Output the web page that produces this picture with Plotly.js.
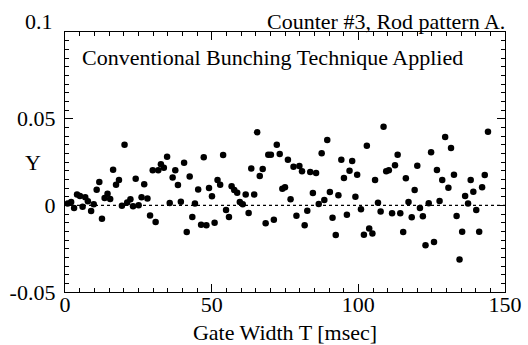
<!DOCTYPE html>
<html>
<head>
<meta charset="utf-8">
<script src="https://cdn.plot.ly/plotly-3.0.1.min.js"></script>
<style>html,body{margin:0;padding:0;background:#fff;}#chart{width:528px;height:345px;}</style>
</head>
<body>
<div id="chart"></div>
<script>
// Gate width T [msec]
const gateWidth = [
  0.9,2.1,3.1,4.1,5.1,6.0,6.9,7.8,8.9,9.8,10.8,11.7,12.6,13.5,14.5,15.4,16.4,17.4,18.4,19.4,20.3,21.2,22.3,23.2,24.1,
  25.1,26.1,27.0,28.1,29.0,29.9,30.9,31.8,32.7,33.7,34.8,35.7,36.7,37.6,38.5,39.5,40.6,41.5,42.5,43.4,44.3,45.4,46.4,47.3,48.2,49.1,
  50.1,51.0,52.0,52.9,53.9,54.9,55.9,56.8,57.7,58.7,59.6,60.6,61.6,62.6,63.5,64.5,65.5,66.4,67.4,68.4,69.3,70.2,71.2,72.2,73.2,74.1,
  75.0,76.0,76.9,77.9,78.9,79.9,80.8,81.7,82.6,83.6,84.5,85.6,86.5,87.5,88.4,89.4,90.3,91.2,92.3,93.2,94.2,95.1,96.1,97.0,97.9,99.0,99.6,
  100.9,101.9,102.9,103.7,104.8,105.7,106.7,107.6,108.6,109.5,110.4,111.5,112.5,113.4,114.3,115.3,116.2,117.1,118.2,119.2,120.1,121.0,122.0,122.9,124.0,124.8,
  125.8,126.8,127.7,128.6,129.6,130.7,131.6,132.6,133.5,134.5,135.4,136.4,137.4,138.3,139.2,140.2,141.2,142.2,143.1,144.2
];
// Y values
const yValues = [
  0.0010,0.0019,-0.0015,0.0063,0.0054,-0.0008,0.0046,0.0023,-0.0033,0.0006,0.0090,0.0135,-0.0077,0.0042,0.0067,0.0037,0.0206,0.0119,0.0146,-0.0002,0.0350,0.0017,0.0035,-0.0006,0.0154,
  0.0000,0.0046,0.0121,0.0040,-0.0058,0.0202,-0.0096,0.0202,0.0237,0.0217,0.0281,0.0013,0.0160,0.0202,0.0117,0.0021,0.0246,-0.0154,0.0167,-0.0067,0.0010,0.0092,-0.0112,0.0277,-0.0115,0.0100,
  0.0052,-0.0100,0.0146,0.0119,0.0290,-0.0027,-0.0067,0.0110,0.0088,0.0073,0.0019,0.0006,0.0062,-0.0044,0.0212,0.0062,0.0421,0.0169,0.0210,-0.0104,0.0292,0.0292,-0.0083,0.0350,0.0296,0.0096,
  0.0104,0.0263,0.0035,0.0223,-0.0060,0.0227,0.0196,-0.0115,-0.0031,0.0192,0.0071,0.0187,0.0008,0.0300,0.0031,0.0377,0.0077,-0.0071,-0.0171,0.0058,0.0263,0.0158,-0.0054,0.0200,0.0256,0.0050,0.0177,
  -0.0023,-0.0169,0.0344,-0.0133,-0.0163,0.0146,0.0015,-0.0035,0.0454,0.0196,0.0202,-0.0046,0.0231,0.0292,-0.0046,-0.0154,0.0156,0.0019,-0.0069,0.0088,0.0229,-0.0015,-0.0063,-0.0231,0.0012,0.0306,
  -0.0212,0.0204,0.0025,0.0146,0.0394,0.0102,0.0331,0.0177,-0.0062,-0.0312,-0.0152,0.0054,0.0010,0.0146,0.0079,-0.0027,-0.0152,0.0104,0.0175,0.0425
];
const xTickVals = [0, 50, 100, 150];
const xTickText = ['0', '50', '100', '150'];
const yTickVals = [-0.05, 0, 0.05, 0.1];
const yTickText = ['-0.05', '0', '0.05', ''];
const yTopLabel = '0.1';
const titleText = 'Counter #3, Rod pattern A.';
const noteText = 'Conventional Bunching Technique Applied';
const xTitle = 'Gate Width T [msec]';
const yTitle = 'Y';

const font = {family: '"Liberation Serif", "DejaVu Serif", serif', size: 22, color: '#000'};

const trace = {
  x: gateWidth, y: yValues, type: 'scatter', mode: 'markers',
  marker: {color: '#000', size: 6.5}, hoverinfo: 'skip', showlegend: false
};

const axisCommon = {
  showgrid: false, zeroline: false, showline: true, linecolor: '#000', linewidth: 1.2,
  mirror: 'allticks', ticks: 'inside', ticklen: 8, tickwidth: 1.2, tickcolor: '#000',
  tickmode: 'array', tickfont: font
};

const layout = {
  width: 528, height: 345,
  margin: {l: 65, r: 23, t: 32, b: 53},
  paper_bgcolor: '#fff', plot_bgcolor: '#fff',
  font: font,
  xaxis: Object.assign({}, axisCommon, {
    range: [0, 150], tickvals: xTickVals, ticktext: xTickText, ticklabelstandoff: -8,
    minor: {tickmode: 'linear', tick0: 0, dtick: 5, ticks: 'inside', ticklen: 4, tickwidth: 1, tickcolor: '#000'},
    title: {text: xTitle, font: font, standoff: 14}
  }),
  yaxis: Object.assign({}, axisCommon, {
    range: [-0.05, 0.1], tickvals: yTickVals, ticktext: yTickText, ticklabelstandoff: 4,
    minor: {tickmode: 'linear', tick0: 0, dtick: 0.005, ticks: 'inside', ticklen: 4, tickwidth: 1, tickcolor: '#000'}
  }),
  shapes: [{
    type: 'line', xref: 'paper', x0: 0, x1: 1, yref: 'y', y0: 0, y1: 0,
    line: {color: '#000', width: 1.2, dash: 'dot'}
  }],
  annotations: [
    {text: titleText, xref: 'paper', yref: 'paper', x: 1, y: 1, xanchor: 'right', yanchor: 'bottom',
     showarrow: false, font: font, yshift: -4, xshift: 2},
    {text: noteText, xref: 'paper', yref: 'paper', x: 0.035, y: 0.9, xanchor: 'left', yanchor: 'middle',
     showarrow: false, font: font},
    {text: yTitle, xref: 'paper', yref: 'paper', x: -0.072, y: 0.5, xanchor: 'center', yanchor: 'middle',
     showarrow: false, font: font},
    {text: yTopLabel, xref: 'paper', yref: 'y', x: 0, y: 0.1, xanchor: 'right', yanchor: 'middle',
     showarrow: false, font: font, xshift: -10, yshift: 11}
  ]
};

Plotly.newPlot('chart', [trace], layout, {staticPlot: true, displayModeBar: false});
</script>
</body>
</html>
